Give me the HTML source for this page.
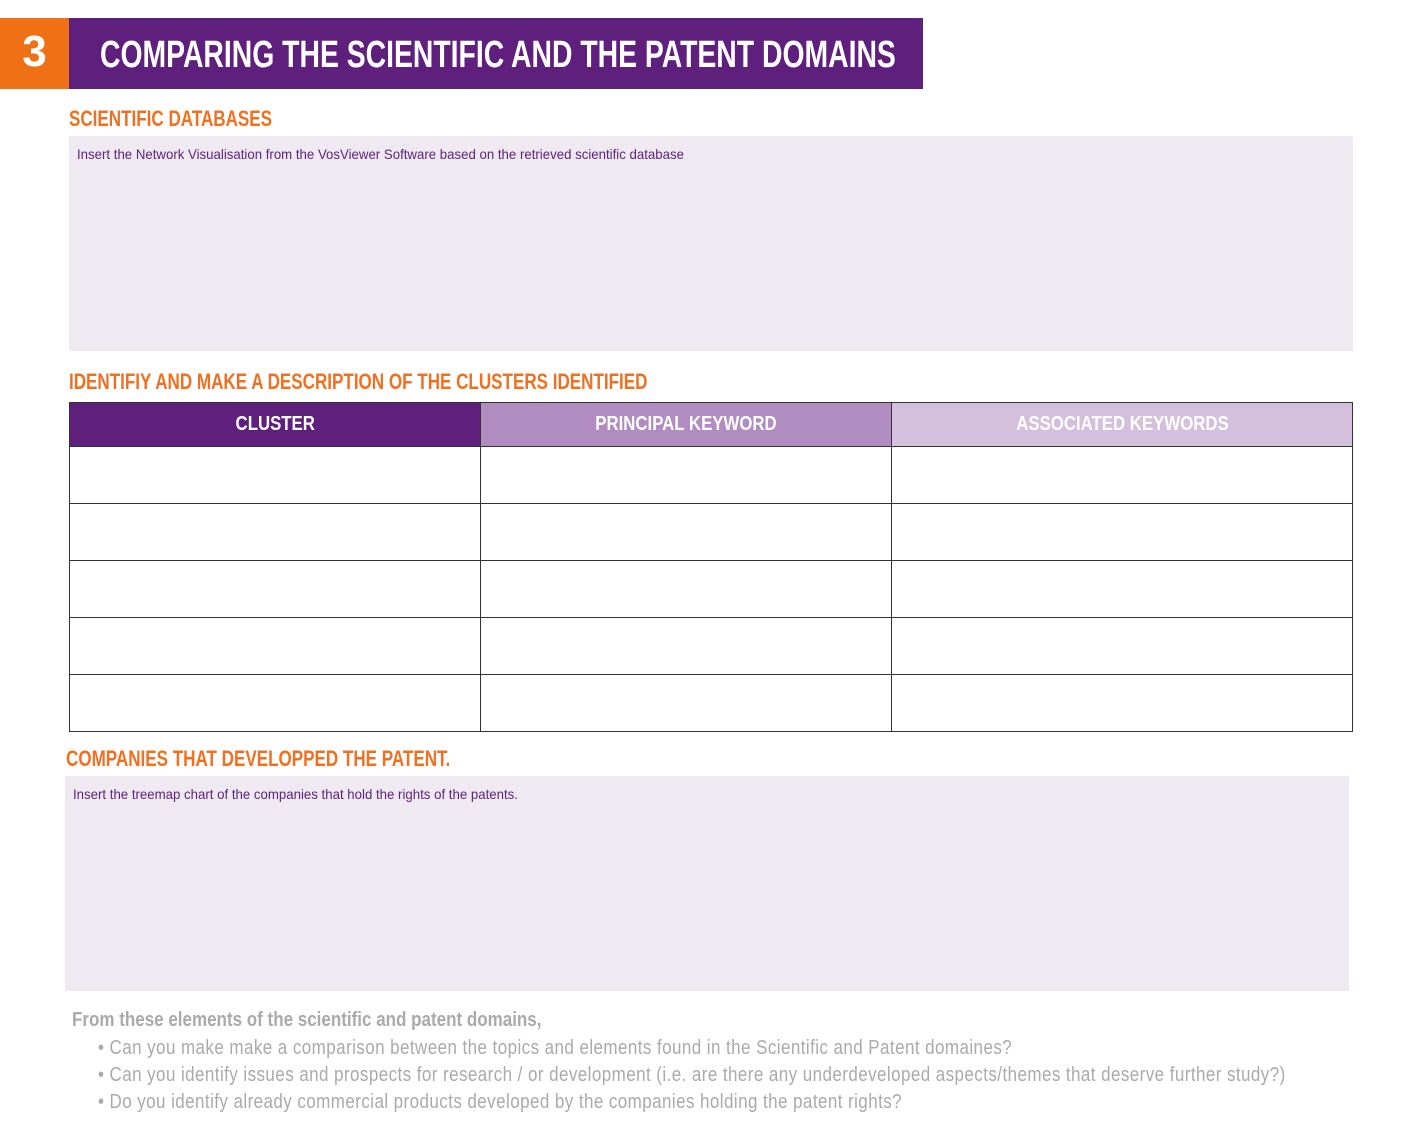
<!DOCTYPE html>
<html><head><meta charset="utf-8"><style>
body{margin:0;width:1411px;height:1146px;background:#fff;position:relative;overflow:hidden;font-family:"Liberation Sans",sans-serif}
.a{position:absolute}
.c{display:inline-block;transform-origin:0 50%;white-space:nowrap}
.h{color:#f07020;font-weight:bold;font-size:22px;white-space:nowrap}
.h .c{transform:scaleX(0.775)}
.box{background:#efeaf2}
.box span{position:absolute;color:#5e1f7d;font-size:14px;white-space:nowrap;transform:scaleX(0.945);transform-origin:0 50%}
table{border-collapse:collapse;position:absolute;left:69px;top:402px;width:1284px}
td,th{border:1px solid #333;padding:0}
th{height:43px;color:#fff;font-size:20px;font-weight:bold}
th .c{transform:scaleX(0.84);transform-origin:50% 50%}
td{height:56px}
.g{color:#aaa;font-size:20px;white-space:nowrap;letter-spacing:0.5px}
.g .c{transform:scaleX(0.85)}
</style></head><body>
<div class="a" style="left:0;top:18px;width:69px;height:71px;background:#f07015;color:#fff;font:bold 44px 'Liberation Sans',sans-serif;text-align:center;line-height:68px">3</div>
<div class="a" style="left:69px;top:18px;width:854px;height:71px;background:#5e1f7d;color:#fff;font-weight:bold;font-size:38px;line-height:74px;padding-left:31px;box-sizing:border-box;white-space:nowrap;overflow:hidden"><span class="c" style="transform:scaleX(0.746)">COMPARING THE SCIENTIFIC AND THE PATENT DOMAINS</span></div>
<div class="a h" style="left:69px;top:106px"><span class="c">SCIENTIFIC DATABASES</span></div>
<div class="a box" style="left:69px;top:136px;width:1284px;height:215px"><span style="left:8px;top:10px">Insert the Network Visualisation from the VosViewer Software based on the retrieved scientific database</span></div>
<div class="a h" style="left:69px;top:369px"><span class="c">IDENTIFIY AND MAKE A DESCRIPTION OF THE CLUSTERS IDENTIFIED</span></div>
<table>
<tr><th style="background:#5e1f7d;width:410px"><span class="c">CLUSTER</span></th><th style="background:#b08cc0;width:410px"><span class="c">PRINCIPAL KEYWORD</span></th><th style="background:#d4bfdc"><span class="c">ASSOCIATED KEYWORDS</span></th></tr>
<tr><td></td><td></td><td></td></tr>
<tr><td></td><td></td><td></td></tr>
<tr><td></td><td></td><td></td></tr>
<tr><td></td><td></td><td></td></tr>
<tr><td></td><td></td><td></td></tr>
</table>
<div class="a h" style="left:66px;top:746px"><span class="c">COMPANIES THAT DEVELOPPED THE PATENT.</span></div>
<div class="a box" style="left:65px;top:776px;width:1284px;height:215px"><span style="left:8px;top:10px">Insert the treemap chart of the companies that hold the rights of the patents.</span></div>
<div class="a g" style="left:72px;top:1009px;font-weight:bold;letter-spacing:0"><span class="c">From these elements of the scientific and patent domains,</span></div>
<div class="a g" style="left:98px;top:1037px"><span class="c">• Can you make make a comparison between the topics and elements found in the Scientific and Patent domaines?</span></div>
<div class="a g" style="left:98px;top:1064px"><span class="c">• Can you identify issues and prospects for research / or development (i.e. are there any underdeveloped aspects/themes that deserve further study?)</span></div>
<div class="a g" style="left:98px;top:1091px"><span class="c">• Do you identify already commercial products developed by the companies holding the patent rights?</span></div>
</body></html>
